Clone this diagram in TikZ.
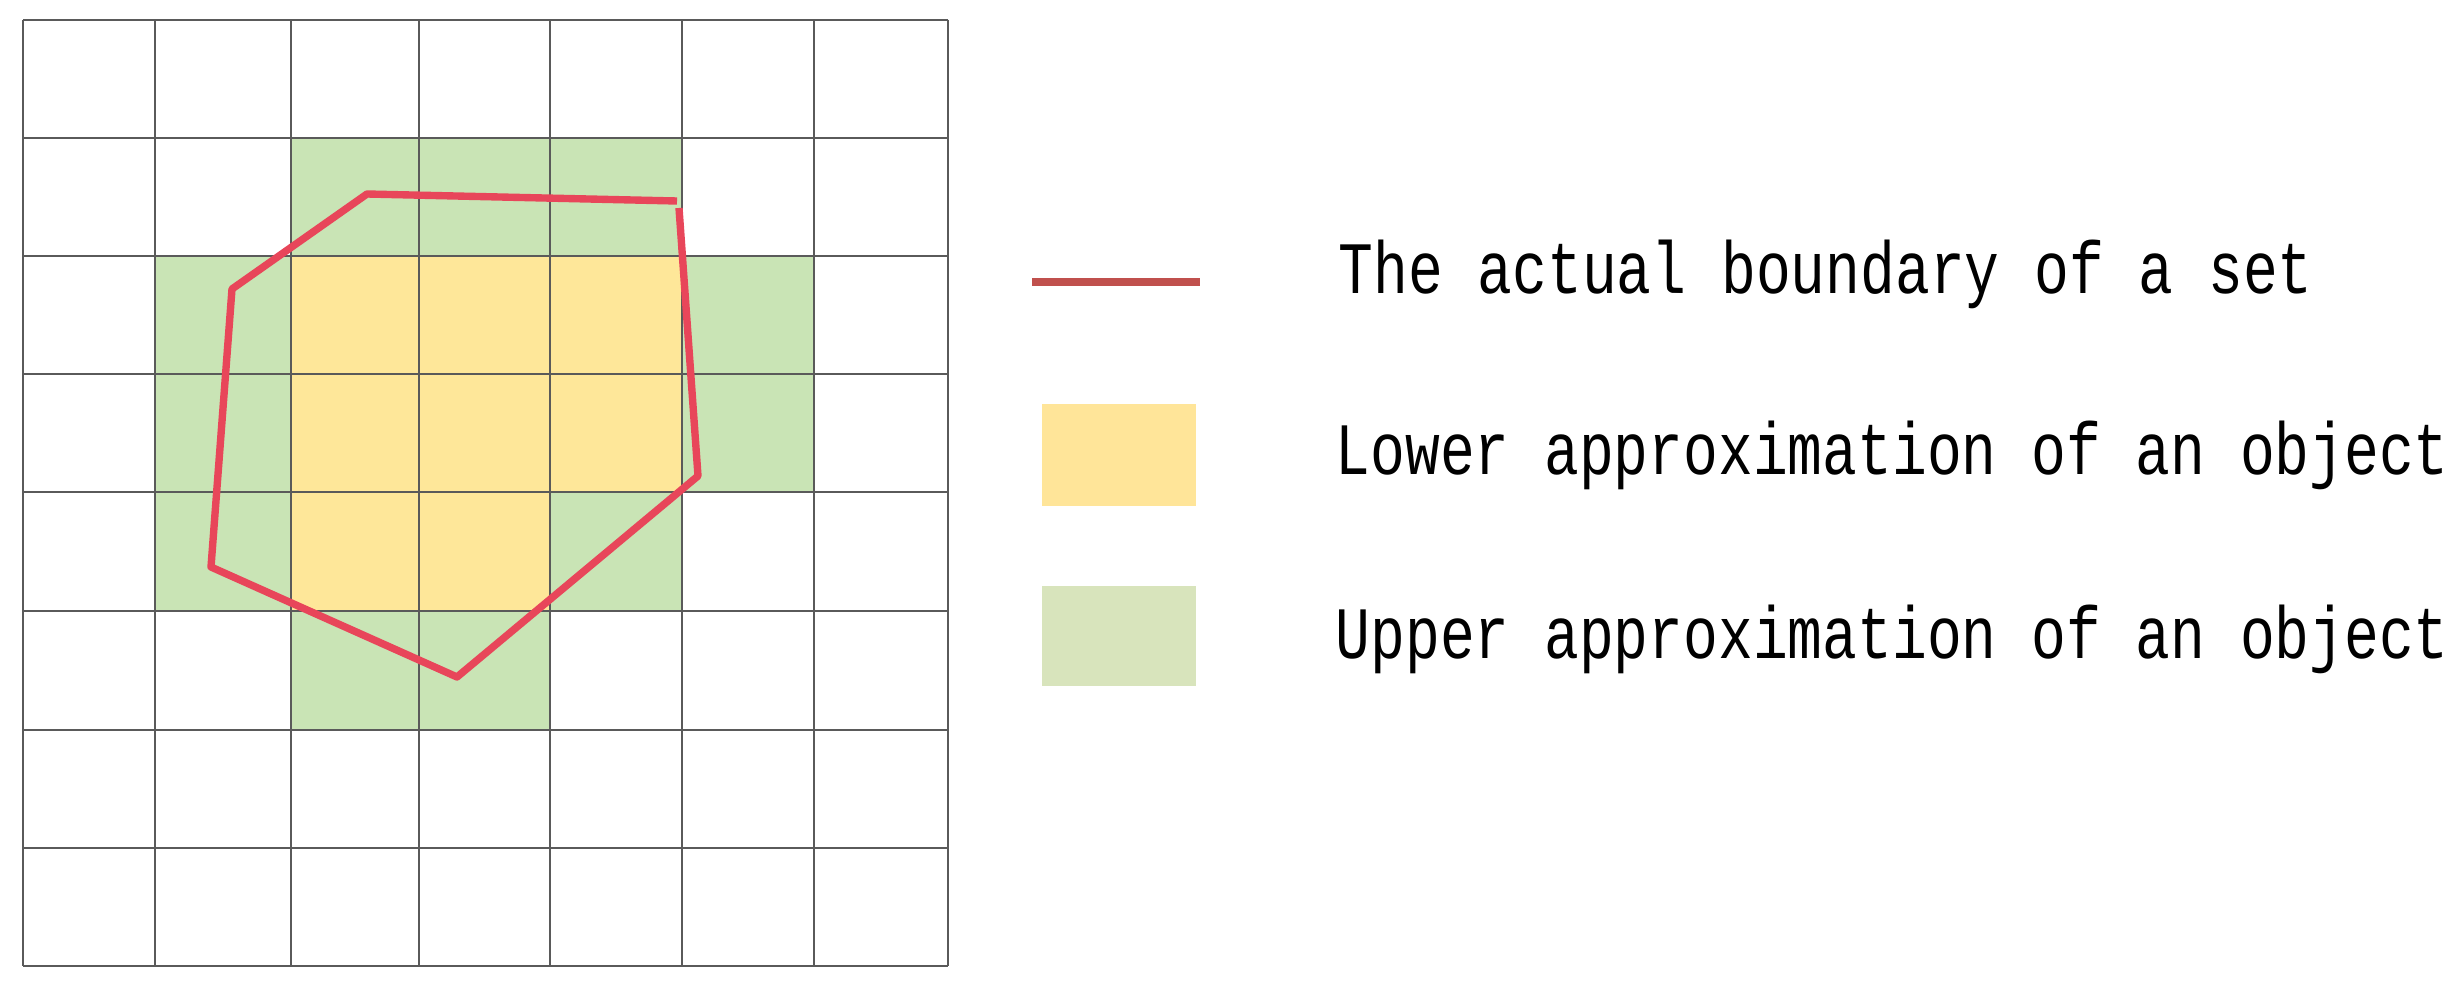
\documentclass[tikz,border=0pt]{standalone}
\usepackage{fontspec}
\newfontfamily\legendfont[FakeStretch=0.785]{Liberation Mono}
\definecolor{gridgray}{HTML}{5A5A5A}
\definecolor{cellgreen}{HTML}{C9E4B5}
\definecolor{cellyellow}{HTML}{FEE799}
\definecolor{boundred}{HTML}{E8465A}
\definecolor{legred}{HTML}{C0504D}
\definecolor{legyellow}{HTML}{FFE599}
\definecolor{leggreen}{HTML}{D8E4BC}
\tikzset{
  gridline/.style={draw=gridgray, line width=0.6pt},
  boundary/.style={draw=boundred, line width=2.1pt, line join=round},
  legtext/.style={anchor=base west, inner sep=0pt, font=\legendfont\fontsize{21pt}{25pt}\selectfont}
}
\begin{document}
\begin{tikzpicture}[x=0.01cm, y=-0.01cm]
\useasboundingbox (0,0) rectangle (2460,991);
% green cells (upper approximation)
\fill[cellgreen] (291,138) rectangle (682,256);
\fill[cellgreen] (155,256) rectangle (814,492);
\fill[cellgreen] (155,492) rectangle (682,611);
\fill[cellgreen] (291,611) rectangle (550,730);
% yellow cells (lower approximation)
\fill[cellyellow] (291,256) rectangle (682,492);
\fill[cellyellow] (291,492) rectangle (550,611);
% grid
\foreach \gx in {23,155,291,419,550,682,814,948} {
  \draw[gridline] (\gx,20) -- (\gx,966);
}
\foreach \gy in {20,138,256,374,492,611,730,848,966} {
  \draw[gridline] (23,\gy) -- (948,\gy);
}
% actual boundary
\draw[boundary] (679,208) -- (698,476) -- (457,677) -- (211,567) -- (232,289) -- (367,194) -- (677,201);
% legend
\draw[legred, line width=2.3pt] (1032,282) -- (1200,282);
\fill[legyellow] (1042,404) rectangle (1196,506);
\fill[leggreen] (1042,586) rectangle (1196,686);
\node[legtext] (t1) at (1338,294) {The actual boundary of a set};
\node[legtext] (t2) at (1335,474) {Lower approximation of an object};
\node[legtext] (t3) at (1335,658) {Upper approximation of an object};
\end{tikzpicture}
\end{document}
